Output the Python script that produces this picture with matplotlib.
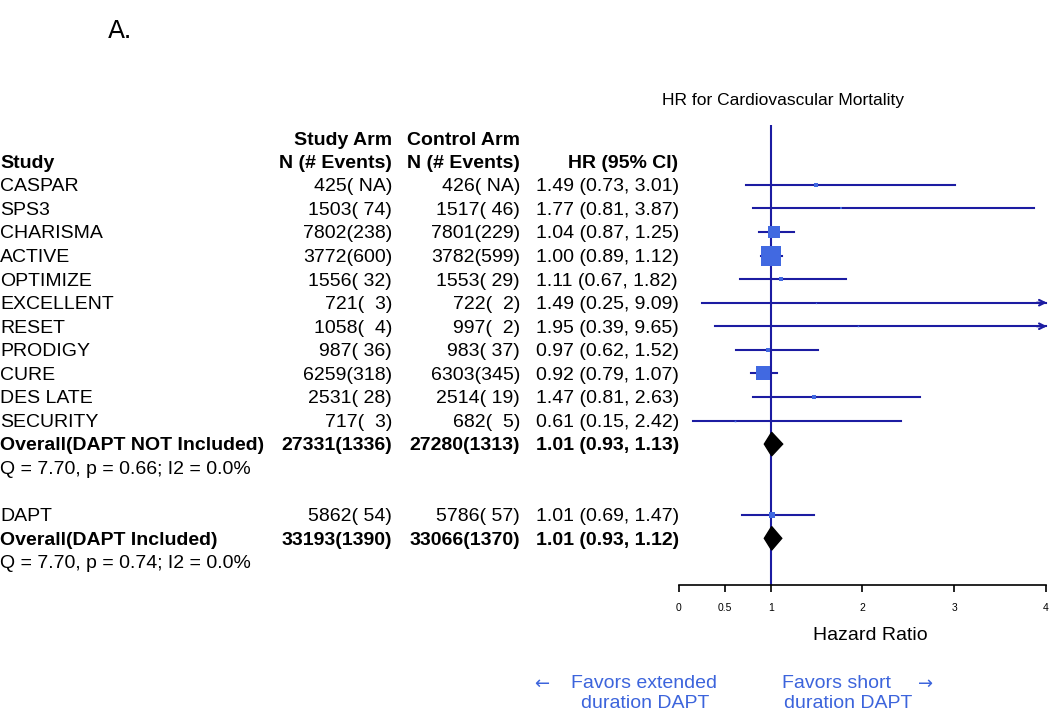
import numpy as np
import matplotlib.pyplot as plt
import matplotlib.transforms as mtransforms
from matplotlib.patches import Polygon

plt.rcParams['font.family'] = ['Liberation Sans', 'DejaVu Sans']

# Study rows
studies = ['CASPAR', 'SPS3', 'CHARISMA', 'ACTIVE', 'OPTIMIZE', 'EXCELLENT',
           'RESET', 'PRODIGY', 'CURE', 'DES LATE', 'SECURITY']
study_arm = ['425( NA)', '1503( 74)', '7802(238)', '3772(600)', '1556( 32)', '721(  3)',
             '1058(  4)', '987( 36)', '6259(318)', '2531( 28)', '717(  3)']
control_arm = ['426( NA)', '1517( 46)', '7801(229)', '3782(599)', '1553( 29)', '722(  2)',
               '997(  2)', '983( 37)', '6303(345)', '2514( 19)', '682(  5)']
hr = [1.49, 1.77, 1.04, 1.00, 1.11, 1.49, 1.95, 0.97, 0.92, 1.47, 0.61]
lo = [0.73, 0.81, 0.87, 0.89, 0.67, 0.25, 0.39, 0.62, 0.79, 0.81, 0.15]
hi = [3.01, 3.87, 1.25, 1.12, 1.82, 9.09, 9.65, 1.52, 1.07, 2.63, 2.42]

# Pooled without DAPT
pool1_label = 'Overall(DAPT NOT Included)'
pool1_study, pool1_control = '27331(1336)', '27280(1313)'
pool1_hr, pool1_lo, pool1_hi = 1.01, 0.93, 1.13
pool1_het = 'Q = 7.70, p = 0.66; I2 = 0.0%'

# DAPT trial and pooled with DAPT
dapt_label, dapt_study, dapt_control = 'DAPT', '5862( 54)', '5786( 57)'
dapt_hr, dapt_lo, dapt_hi = 1.01, 0.69, 1.47
pool2_label = 'Overall(DAPT Included)'
pool2_study, pool2_control = '33193(1390)', '33066(1370)'
pool2_hr, pool2_lo, pool2_hi = 1.01, 0.93, 1.12
pool2_het = 'Q = 7.70, p = 0.74; I2 = 0.0%'

xticks = [0, 0.5, 1, 2, 3, 4]
xticklabels = ['0', '0.5', '1', '2', '3', '4']

line_col = '#1c1ca2'
box_col = '#4169e1'
fav_col = '#3c64dc'
fs = 14
dy = 0.08  # small nudge so text sits on the row line

fig = plt.figure(figsize=(10.5, 7.12), dpi=100)
W, H = 1050, 712
ax = fig.add_axes([679 / W, 1 - 585 / H, 367 / W, 460 / H])
ax.set_xlim(0, 4)
ax.set_ylim(16.98, -2.54)
for s in ['top', 'right', 'left']:
    ax.spines[s].set_visible(False)
ax.spines['bottom'].set_linewidth(1.2)
ax.set_yticks([])
ax.set_xticks(xticks)
ax.set_xticklabels(xticklabels, fontsize=7.5)
ax.tick_params(axis='x', length=5, width=1.2, pad=8)

ax.axvline(1, color=line_col, lw=1.5, zorder=1)

tr = mtransforms.blended_transform_factory(fig.transFigure, ax.transData)


def row_text(y, name, sa, ca, est, l, h, bold=False):
    w = 'bold' if bold else 'normal'
    y = y + dy
    ax.text(0, y, name, transform=tr, fontsize=fs, fontweight=w, va='center', ha='left', clip_on=False)
    ax.text(392 / W, y, sa, transform=tr, fontsize=fs, fontweight=w, va='center', ha='right', clip_on=False)
    ax.text(520 / W, y, ca, transform=tr, fontsize=fs, fontweight=w, va='center', ha='right', clip_on=False)
    ax.text(536 / W, y, '%.2f (%.2f, %.2f)' % (est, l, h), transform=tr, fontsize=fs,
            fontweight=w, va='center', ha='left', clip_on=False)


def ci_row(y, est, l, h):
    se = (np.log(h) - np.log(l)) / (2 * 1.96)
    side_px = 1.143 * np.sqrt(1 / se ** 2)
    if h > 4:
        ax.plot([l, 4], [y, y], color=line_col, lw=1.5, clip_on=False, zorder=2)
        ax.annotate('', xy=(4.01, y), xytext=(3.9, y),
                    arrowprops=dict(arrowstyle='->', color=line_col, lw=1.5,
                                    mutation_scale=10, shrinkA=0, shrinkB=0),
                    annotation_clip=False)
    else:
        ax.plot([l, h], [y, y], color=line_col, lw=1.5, clip_on=False, zorder=2)
    ax.plot(est, y, marker='s', ms=side_px * 0.72, color=box_col, mew=0, zorder=3, clip_on=False)


def diamond(y, est, l, h):
    d = 0.5
    ax.add_patch(Polygon([[l, y], [est, y - d], [h, y], [est, y + d]],
                         closed=True, color='black', zorder=4))


# headers
ax.text(392 / W, -1.95 + dy, 'Study Arm', transform=tr, fontsize=fs, fontweight='bold', ha='right', va='center')
ax.text(520 / W, -1.95 + dy, 'Control Arm', transform=tr, fontsize=fs, fontweight='bold', ha='right', va='center')
ax.text(0, -1 + dy, 'Study', transform=tr, fontsize=fs, fontweight='bold', ha='left', va='center')
ax.text(392 / W, -1 + dy, 'N (# Events)', transform=tr, fontsize=fs, fontweight='bold', ha='right', va='center')
ax.text(520 / W, -1 + dy, 'N (# Events)', transform=tr, fontsize=fs, fontweight='bold', ha='right', va='center')
ax.text(678 / W, -1 + dy, 'HR (95% CI)', transform=tr, fontsize=fs, fontweight='bold', ha='right', va='center')

for i in range(len(studies)):
    row_text(i, studies[i], study_arm[i], control_arm[i], hr[i], lo[i], hi[i])
    ci_row(i, hr[i], lo[i], hi[i])

y = len(studies)
row_text(y, pool1_label, pool1_study, pool1_control, pool1_hr, pool1_lo, pool1_hi, bold=True)
diamond(y, pool1_hr, pool1_lo, pool1_hi)
ax.text(0, y + 1 + dy, pool1_het, transform=tr, fontsize=fs, va='center', ha='left')

y = y + 3
row_text(y, dapt_label, dapt_study, dapt_control, dapt_hr, dapt_lo, dapt_hi)
ci_row(y, dapt_hr, dapt_lo, dapt_hi)
row_text(y + 1, pool2_label, pool2_study, pool2_control, pool2_hr, pool2_lo, pool2_hi, bold=True)
diamond(y + 1, pool2_hr, pool2_lo, pool2_hi)
ax.text(0, y + 2 + dy, pool2_het, transform=tr, fontsize=fs, va='center', ha='left')

# titles and labels
fig.text(783 / W, 1 - 101 / H, 'HR for Cardiovascular Mortality', fontsize=12.5, ha='center', va='center')
fig.text(870 / W, 1 - 635 / H, 'Hazard Ratio', fontsize=14, ha='center', va='center')
fig.text(108 / W, 1 - 31 / H, 'A.', fontsize=18, ha='left', va='center', family='DejaVu Sans')

fig.text(542 / W, 1 - 684 / H, '\u2190', fontsize=13, color=fav_col, ha='center', va='center', family='DejaVu Sans')
fig.text(644 / W, 1 - 684 / H, 'Favors extended', fontsize=14, color=fav_col, ha='center', va='center')
fig.text(645 / W, 1 - 703 / H, 'duration DAPT', fontsize=14, color=fav_col, ha='center', va='center')
fig.text(836 / W, 1 - 684 / H, 'Favors short', fontsize=14, color=fav_col, ha='center', va='center')
fig.text(848 / W, 1 - 703 / H, 'duration DAPT', fontsize=14, color=fav_col, ha='center', va='center')
fig.text(926 / W, 1 - 684 / H, '\u2192', fontsize=13, color=fav_col, ha='center', va='center', family='DejaVu Sans')

fig.savefig('out.png', dpi=100)
